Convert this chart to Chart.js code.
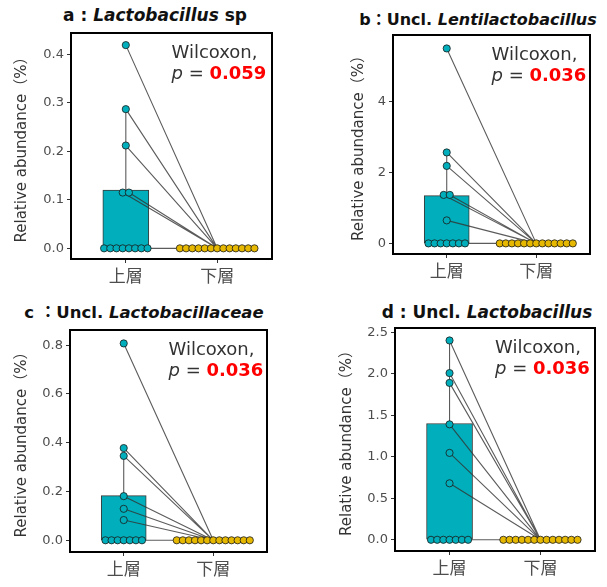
<!DOCTYPE html>
<html>
<head>
<meta charset="utf-8">
<script src="https://cdn.jsdelivr.net/npm/chart.js@4.4.1/dist/chart.umd.min.js"></script>
<style>
  body { margin: 0; background: #fff; width: 607px; height: 587px; position: relative; overflow: hidden;
         font-family: 'DejaVu Sans', 'Noto Sans CJK JP', sans-serif; }
  .panel { position: absolute; }
  .ttl { position: absolute; font-weight: bold; font-size: 16px; white-space: nowrap; color: #111;
         transform: translate(-50%, -50%); }
</style>
</head>
<body>
<div class="ttl" style="left:155px;top:15px;font-size:17px">a : <i>Lactobacillus</i> sp</div>
<div class="ttl" style="left:478px;top:18px">b：Uncl. <i>Lentilactobacillus</i></div>
<div class="ttl" style="left:144px;top:311px;font-size:16.5px">c ：Uncl. <i>Lactobacillaceae</i></div>
<div class="ttl" style="left:487px;top:312px;font-size:17px">d : Uncl. <i>Lactobacillus</i></div>

<div class="panel" style="left:0;top:0;width:300px;height:300px"><canvas id="chart_a"></canvas></div>
<div class="panel" style="left:300px;top:0;width:307px;height:300px"><canvas id="chart_b"></canvas></div>
<div class="panel" style="left:0;top:290px;width:300px;height:297px"><canvas id="chart_c"></canvas></div>
<div class="panel" style="left:300px;top:290px;width:307px;height:297px"><canvas id="chart_d"></canvas></div>

<script>
const groups = ['上層', '下層'];
const yTitle = 'Relative abundance（%）';

// a : Lactobacillus sp
const upper_a = [0.419, 0.287, 0.212, 0.115, 0.115, 0, 0, 0, 0, 0, 0, 0, 0];
const lower_a = [0, 0, 0, 0, 0, 0, 0, 0, 0, 0, 0, 0, 0];
const bar_a = 0.12;
const err_a = 0.287;
const yTicks_a = ['0.0', '0.1', '0.2', '0.3', '0.4'];
const yRange_a = [-0.022, 0.444];
const p_a = '0.059';

// b : Uncl. Lentilactobacillus
const upper_b = [5.51, 2.57, 2.19, 1.37, 1.37, 0.65, 0, 0, 0, 0, 0, 0, 0];
const lower_b = [0, 0, 0, 0, 0, 0, 0, 0, 0, 0, 0, 0, 0];
const bar_b = 1.35;
const err_b = 2.57;
const yTicks_b = ['0', '2', '4'];
const yRange_b = [-0.3, 5.89];
const p_b = '0.036';

// c : Uncl. Lactobacillaceae
const upper_c = [0.807, 0.378, 0.346, 0.181, 0.129, 0.083, 0, 0, 0, 0, 0, 0, 0];
const lower_c = [0, 0, 0, 0, 0, 0, 0, 0, 0, 0, 0, 0, 0];
const bar_c = 0.183;
const err_c = 0.345;
const yTicks_c = ['0.0', '0.2', '0.4', '0.6', '0.8'];
const yRange_c = [-0.048, 0.862];
const p_c = '0.036';

// d : Uncl. Lactobacillus
const upper_d = [2.40, 2.007, 1.889, 1.39, 1.046, 0.68, 0, 0, 0, 0, 0, 0, 0];
const lower_d = [0, 0, 0, 0, 0, 0, 0, 0, 0, 0, 0, 0, 0];
const bar_d = 1.40;
const err_d = 2.40;
const yTicks_d = ['0.0', '0.5', '1.0', '1.5', '2.0', '2.5'];
const yRange_d = [-0.135, 2.55];
const p_d = '0.036';

const FONT = "'DejaVu Sans', 'Noto Sans CJK JP', sans-serif";
const CYAN = '#00AFBB';
const GOLD = '#E7B800';
const STEP = 0.068; // dot spacing for tied values, in x units

// spread tied values side by side around the group centre
function dodge(vals, center) {
  const count = {};
  vals.forEach(v => { count[v] = (count[v] || 0) + 1; });
  const seen = {};
  return vals.map(v => {
    const i = seen[v] || 0;
    seen[v] = i + 1;
    return { x: center + (i - (count[v] - 1) / 2) * STEP, y: v };
  });
}

const framePlugin = {
  id: 'frame',
  afterDraw(chart, args, opts) {
    const { ctx, chartArea: a } = chart;
    ctx.save();
    ctx.strokeStyle = '#000';
    ctx.lineWidth = 2;
    ctx.strokeRect(a.left, a.top, a.right - a.left, a.bottom - a.top);

    const x0 = chart.scales.x.getPixelForValue(1.5);
    ctx.textBaseline = 'middle';
    ctx.textAlign = 'left';
    ctx.fillStyle = '#333';
    ctx.font = '18px ' + FONT;
    ctx.fillText('Wilcoxon,', x0, a.top + 20);
    let x = x0;
    ctx.font = 'italic 18px ' + FONT;
    ctx.fillText('p', x, a.top + 41);
    x += ctx.measureText('p').width;
    ctx.font = '18px ' + FONT;
    ctx.fillText(' = ', x, a.top + 41);
    x += ctx.measureText(' = ').width;
    ctx.font = 'bold 18px ' + FONT;
    ctx.fillStyle = '#FF0000';
    ctx.fillText(opts.p, x, a.top + 41);
    ctx.restore();
  }
};

function makeChart(id, upper, lower, barTop, errTop, yTicks, yRange, pText, box) {
  const upPts = dodge(upper, 1);
  const lowPts = dodge(lower, 2);
  const pairs = [];
  upPts.forEach((pt, i) => {
    pairs.push({ x: pt.x, y: pt.y }, { x: 2, y: lower[i] }, { x: 1.5, y: null });
  });

  return new Chart(document.getElementById(id), {
    type: 'scatter',
    data: {
      datasets: [
        { type: 'scatter', data: upPts, backgroundColor: CYAN, borderColor: '#1a1a1a',
          borderWidth: 0.8, pointRadius: 3.6, order: 0 },
        { type: 'scatter', data: lowPts, backgroundColor: GOLD, borderColor: '#1a1a1a',
          borderWidth: 0.8, pointRadius: 3.6, order: 0 },
        { type: 'line', data: pairs, borderColor: 'rgba(50,50,50,0.8)', borderWidth: 1.1,
          pointRadius: 0, spanGaps: false, order: 1 },
        { type: 'line', data: [{ x: 1, y: barTop }, { x: 1, y: errTop }],
          borderColor: 'rgba(50,50,50,0.8)', borderWidth: 1.1, pointRadius: 0, order: 1 },
        { type: 'bar', data: [{ x: 1, y: barTop }], backgroundColor: CYAN, borderColor: '#3a3a3a',
          borderWidth: 1, borderSkipped: false, barThickness: box.barW, order: 2 }
      ]
    },
    options: {
      responsive: true,
      maintainAspectRatio: false,
      animation: false,
      layout: { padding: { left: box.padL, right: box.padR, top: box.padT, bottom: box.padB } },
      plugins: { legend: { display: false }, tooltip: { enabled: false }, frame: { p: pText } },
      scales: {
        x: {
          type: 'linear', min: 0.4, max: 2.6, offset: false,
          afterBuildTicks: s => { s.ticks = [{ value: 1 }, { value: 2 }]; },
          afterFit: s => { s.height = box.xH; },
          grid: { offset: false, drawOnChartArea: false, drawTicks: true, tickLength: 4, color: '#333' },
          border: { display: false },
          ticks: { padding: 4, color: '#4d4d4d', font: { family: FONT, size: 17 },
                   callback: (v, i) => groups[i] }
        },
        y: {
          type: 'linear', min: yRange[0], max: yRange[1],
          afterBuildTicks: s => { s.ticks = yTicks.map(t => ({ value: parseFloat(t) })); },
          afterFit: s => { s.width = box.yW; },
          grid: { drawOnChartArea: false, drawTicks: true, tickLength: 4, color: '#333' },
          border: { display: false },
          ticks: { padding: 3, color: '#4d4d4d', font: { family: FONT, size: 13 },
                   callback: (v, i) => yTicks[i] },
          title: { display: true, text: yTitle, color: '#333', padding: { top: 4, bottom: 4 },
                   font: { family: FONT, size: 15 } }
        }
      }
    },
    plugins: [framePlugin]
  });
}

makeChart('chart_a', upper_a, lower_a, bar_a, err_a, yTicks_a, yRange_a, p_a,
  { padL: 9, yW: 62, padR: 28, padT: 33, xH: 36, padB: 5, barW: 46 });
makeChart('chart_b', upper_b, lower_b, bar_b, err_b, yTicks_b, yRange_b, p_b,
  { padL: 46, yW: 47, padR: 17, padT: 35, xH: 36, padB: 10, barW: 45 });
makeChart('chart_c', upper_c, lower_c, bar_c, err_c, yTicks_c, yRange_c, p_c,
  { padL: 9, yW: 61, padR: 33, padT: 40, xH: 34, padB: 1, barW: 45 });
makeChart('chart_d', upper_d, lower_d, bar_d, err_d, yTicks_d, yRange_d, p_d,
  { padL: 34, yW: 61, padR: 12, padT: 38, xH: 35, padB: 1, barW: 46 });
</script>
</body>
</html>
